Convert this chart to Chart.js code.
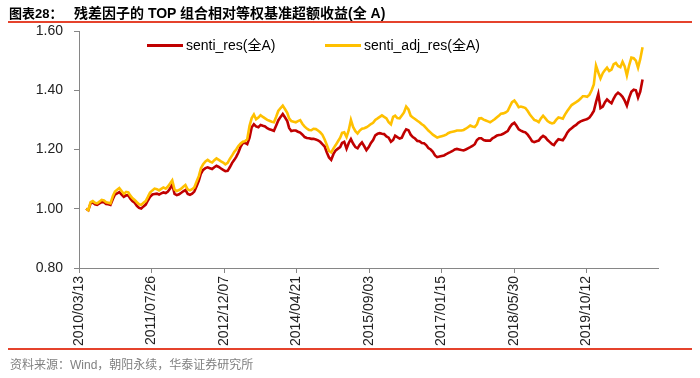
<!DOCTYPE html>
<html>
<head>
<meta charset="utf-8">
<script src="https://cdn.jsdelivr.net/npm/chart.js@4.4.0/dist/chart.umd.min.js"></script>
<style>
body{margin:0;background:#fff;}
#wrap{position:relative;width:700px;height:378px;overflow:hidden;font-family:"Liberation Sans",Arial,"Noto Sans CJK SC",sans-serif;}
#c{position:absolute;left:0;top:0;}
.title{position:absolute;top:2px;font-size:14px;font-weight:bold;color:#000;white-space:nowrap;}
.rule{position:absolute;left:8px;width:684px;height:2px;background:#e5432c;}
.leg{position:absolute;top:37px;font-size:14px;color:#000;white-space:nowrap;line-height:16px;}
.leg i{display:inline-block;width:36px;height:3px;vertical-align:middle;margin-right:3px;position:relative;top:-1px;}
.foot{position:absolute;left:10px;top:355px;font-size:12px;color:#808080;white-space:nowrap;}
</style>
</head>
<body>
<div id="wrap">
<canvas id="c" width="700" height="378"></canvas>
<div class="title" style="left:9px;font-size:13px;top:3px">图表28：</div>
<div class="title" style="left:74px">残差因子的 TOP 组合相对等权基准超额收益(全 A)</div>
<div class="rule" style="top:21px"></div>
<div class="leg" style="left:147px"><i style="background:#c00000"></i>senti_res(全A)</div>
<div class="leg" style="left:325px"><i style="background:#ffc000"></i>senti_adj_res(全A)</div>
<div class="rule" style="top:348px"></div>
<div class="foot">资料来源：Wind，朝阳永续，华泰证券研究所</div>
</div>
<script>
// months covered; each month has a point on the 1st and the 16th (last month: 1st only)
var months = [
  '2010-05','2010-06','2010-07','2010-08','2010-09','2010-10','2010-11','2010-12',
  '2011-01','2011-02','2011-03','2011-04','2011-05','2011-06','2011-07','2011-08','2011-09','2011-10','2011-11','2011-12',
  '2012-01','2012-02','2012-03','2012-04','2012-05','2012-06','2012-07','2012-08','2012-09','2012-10','2012-11','2012-12',
  '2013-01','2013-02','2013-03','2013-04','2013-05','2013-06','2013-07','2013-08','2013-09','2013-10','2013-11','2013-12',
  '2014-01','2014-02','2014-03','2014-04','2014-05','2014-06','2014-07','2014-08','2014-09','2014-10','2014-11','2014-12',
  '2015-01','2015-02','2015-03','2015-04','2015-05','2015-06','2015-07','2015-08','2015-09','2015-10','2015-11','2015-12',
  '2016-01','2016-02','2016-03','2016-04','2016-05','2016-06','2016-07','2016-08','2016-09','2016-10','2016-11','2016-12',
  '2017-01','2017-02','2017-03','2017-04','2017-05','2017-06','2017-07','2017-08','2017-09','2017-10','2017-11','2017-12',
  '2018-01','2018-02','2018-03','2018-04','2018-05','2018-06','2018-07','2018-08','2018-09','2018-10','2018-11','2018-12',
  '2019-01','2019-02','2019-03','2019-04','2019-05','2019-06','2019-07','2019-08','2019-09','2019-10','2019-11','2019-12',
  '2020-01','2020-02','2020-03','2020-04','2020-05','2020-06','2020-07','2020-08','2020-09','2020-10','2020-11'
];
var pointDays = ['01', '16'];

var sentiRes = [
  1.000,0.995, 1.018,1.021, 1.015,1.013, 1.018,1.022, 1.022,1.016, 1.015,1.013, 1.032,1.048, 1.052,1.056,
  1.048,1.040, 1.045,1.045, 1.035,1.026, 1.020,1.010, 1.003,1.001, 1.008,1.014, 1.028,1.040, 1.048,1.050, 1.051,1.048, 1.052,1.055, 1.053,1.058, 1.068,1.082,
  1.050,1.046, 1.049,1.054, 1.059,1.063, 1.050,1.047, 1.051,1.058, 1.076,1.094, 1.119,1.131, 1.137,1.140, 1.137,1.134, 1.140,1.145, 1.141,1.136, 1.131,1.127,
  1.128,1.140, 1.155,1.165, 1.175,1.190, 1.210,1.222, 1.222,1.218, 1.240,1.275, 1.285,1.278, 1.275,1.283, 1.280,1.278, 1.272,1.268, 1.266,1.263, 1.280,1.298,
  1.310,1.320, 1.308,1.296, 1.273,1.262, 1.264,1.264, 1.260,1.257, 1.250,1.242, 1.239,1.238, 1.236,1.236, 1.234,1.231, 1.226,1.218, 1.210,1.190, 1.173,1.165,
  1.185,1.197, 1.203,1.208, 1.222,1.226, 1.203,1.222, 1.235,1.220, 1.208,1.204, 1.216,1.224, 1.211,1.198, 1.208,1.222, 1.232,1.248, 1.253,1.255, 1.253,1.252,
  1.244,1.240, 1.226,1.232, 1.247,1.242, 1.237,1.240, 1.256,1.268, 1.265,1.250, 1.242,1.237, 1.229,1.228, 1.222,1.221, 1.215,1.205, 1.200,1.192, 1.180,1.174,
  1.176,1.178, 1.180,1.184, 1.188,1.191, 1.195,1.200, 1.202,1.200, 1.198,1.197, 1.200,1.204, 1.208,1.212, 1.218,1.232, 1.238,1.238, 1.232,1.230, 1.230,1.230,
  1.238,1.242, 1.247,1.249, 1.250,1.253, 1.258,1.262, 1.275,1.285, 1.290,1.280, 1.268,1.264, 1.260,1.258, 1.250,1.240, 1.228,1.225, 1.228,1.230, 1.240,1.246,
  1.241,1.232, 1.225,1.218, 1.215,1.226, 1.235,1.233, 1.231,1.242, 1.257,1.266, 1.272,1.278, 1.283,1.290, 1.295,1.298, 1.300,1.303, 1.308,1.318, 1.330,1.360,
  1.388,1.340, 1.345,1.360, 1.369,1.362, 1.356,1.372, 1.385,1.392, 1.386,1.378, 1.365,1.348, 1.375,1.395, 1.402,1.400, 1.375,1.395, 1.436
];

var sentiAdjRes = [
  1.000,0.995, 1.022,1.026, 1.020,1.018, 1.024,1.030, 1.028,1.022, 1.020,1.018, 1.042,1.058, 1.064,1.070,
  1.060,1.050, 1.057,1.055, 1.045,1.036, 1.030,1.022, 1.015,1.013, 1.020,1.026, 1.040,1.055, 1.062,1.068, 1.066,1.062, 1.067,1.072, 1.068,1.075, 1.085,1.096,
  1.065,1.060, 1.063,1.068, 1.074,1.080, 1.065,1.062, 1.066,1.072, 1.092,1.110, 1.137,1.150, 1.160,1.165, 1.159,1.156, 1.164,1.170, 1.165,1.160, 1.156,1.150,
  1.155,1.168, 1.180,1.192, 1.200,1.212, 1.220,1.226, 1.228,1.235, 1.280,1.306, 1.318,1.302, 1.308,1.316, 1.310,1.305, 1.300,1.297, 1.294,1.292, 1.310,1.330,
  1.340,1.348, 1.336,1.324, 1.305,1.296, 1.294,1.292, 1.296,1.299, 1.286,1.277, 1.271,1.266, 1.265,1.270, 1.269,1.264, 1.258,1.250, 1.234,1.215, 1.195,1.190,
  1.204,1.215, 1.228,1.240, 1.256,1.258, 1.242,1.265, 1.300,1.276, 1.262,1.254, 1.264,1.270, 1.272,1.275, 1.280,1.286, 1.290,1.300, 1.305,1.310, 1.315,1.310,
  1.305,1.292, 1.285,1.310, 1.314,1.306, 1.305,1.315, 1.325,1.345, 1.335,1.314, 1.308,1.303, 1.297,1.292, 1.285,1.280, 1.272,1.264, 1.257,1.250, 1.245,1.240,
  1.243,1.245, 1.247,1.250, 1.255,1.258, 1.260,1.262, 1.264,1.264, 1.264,1.266, 1.270,1.275, 1.281,1.278, 1.276,1.285, 1.305,1.306, 1.301,1.298, 1.295,1.292,
  1.297,1.302, 1.309,1.315, 1.321,1.322, 1.325,1.330, 1.345,1.360, 1.365,1.355, 1.343,1.345, 1.343,1.340, 1.330,1.318, 1.309,1.300, 1.297,1.292, 1.305,1.314,
  1.305,1.296, 1.291,1.288, 1.290,1.300, 1.308,1.306, 1.304,1.318, 1.330,1.340, 1.350,1.355, 1.360,1.365, 1.372,1.380, 1.380,1.378, 1.385,1.400, 1.420,1.483,
  1.460,1.440, 1.458,1.468, 1.476,1.465, 1.470,1.488, 1.492,1.482, 1.478,1.496, 1.480,1.450, 1.485,1.510, 1.508,1.500, 1.476,1.505, 1.545
];

var tickDates = ['2010/03/13','2011/07/26','2012/12/07','2014/04/21','2015/09/03','2017/01/15','2018/05/30','2019/10/12'];

var DAY = 86400000;
var origin = Date.UTC(2010, 2, 13);
function dayOf(s) {
  var p = s.split(/[-\/]/);
  return Math.round((Date.UTC(+p[0], +p[1] - 1, +p[2]) - origin) / DAY);
}

var dates = [];
months.forEach(function (m, i) {
  pointDays.forEach(function (d) {
    if (i < months.length - 1 || d === '01') dates.push(m + '-' + d);
  });
});

function pts(vals) {
  return vals.map(function (v, i) { return { x: dayOf(dates[i]), y: v }; });
}

Chart.defaults.font.family = '"Liberation Sans", Arial, "Noto Sans CJK SC", sans-serif';
Chart.defaults.color = '#333';

var axisColor = '#868686';

new Chart(document.getElementById('c'), {
  type: 'line',
  data: {
    datasets: [
      { label: 'senti_res(全A)', data: pts(sentiRes), borderColor: '#c00000', borderWidth: 2.6, pointRadius: 0, tension: 0, order: 2 },
      { label: 'senti_adj_res(全A)', data: pts(sentiAdjRes), borderColor: '#ffc000', borderWidth: 2.6, pointRadius: 0, tension: 0, order: 1 }
    ]
  },
  options: {
    responsive: false,
    animation: false,
    layout: { padding: { left: 0, top: 31, right: 41.5, bottom: 0 } },
    plugins: { legend: { display: false }, tooltip: { enabled: false } },
    scales: {
      x: {
        type: 'linear',
        min: 0,
        max: 3996,
        afterBuildTicks: function (scale) {
          scale.ticks = tickDates.map(function (d) { return { value: dayOf(d) }; });
        },
        afterFit: function (scale) { scale.height = 110; },
        ticks: {
          autoSkip: false,
          minRotation: 90,
          maxRotation: 90,
          padding: 3,
          font: { size: 14 },
          color: '#222',
          callback: function (v, i) { return tickDates[i]; }
        },
        grid: { drawOnChartArea: false, drawTicks: true, tickLength: 5, color: axisColor },
        border: { color: axisColor, width: 1 }
      },
      y: {
        min: 0.8,
        max: 1.6,
        afterFit: function (scale) { scale.width = 79; },
        ticks: {
          stepSize: 0.2,
          padding: 11,
          font: { size: 14 },
          color: '#222',
          callback: function (v) { return v.toFixed(2); }
        },
        grid: { drawOnChartArea: false, drawTicks: true, tickLength: 5, color: axisColor },
        border: { color: axisColor, width: 1 }
      }
    }
  }
});
</script>
</body>
</html>
